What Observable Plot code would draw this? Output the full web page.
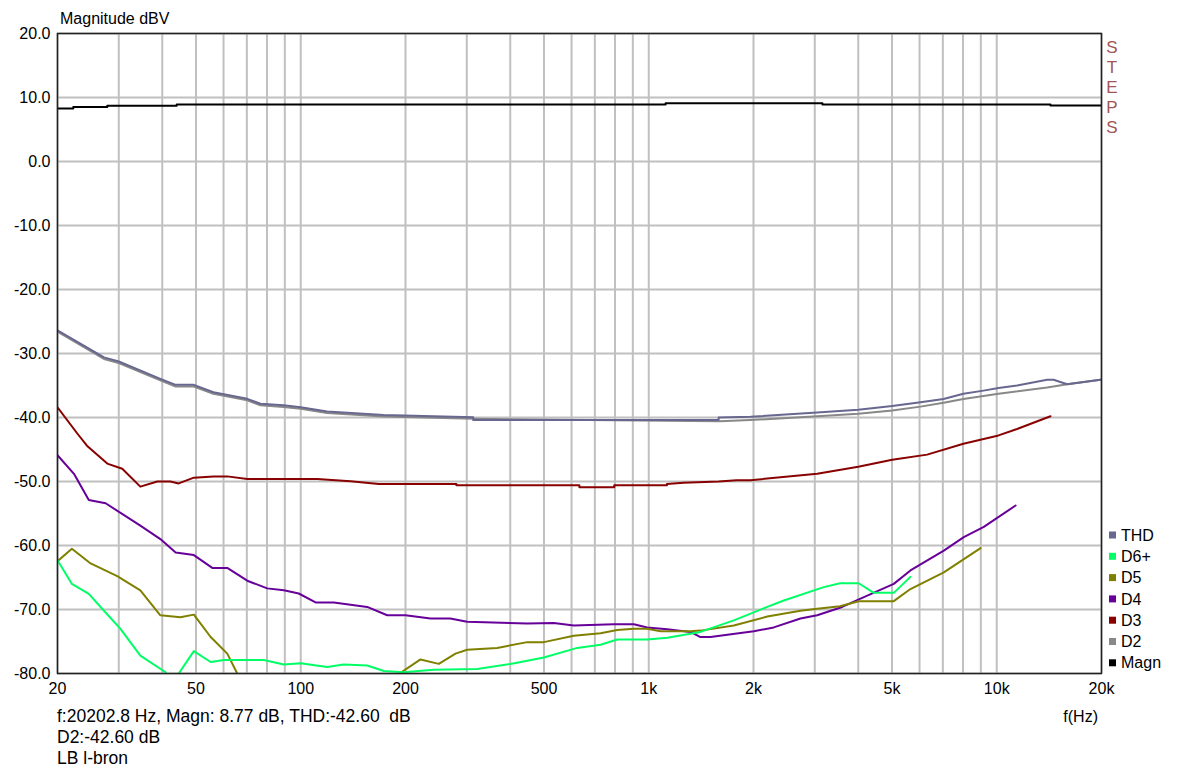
<!DOCTYPE html>
<html>
<head>
<meta charset="utf-8">
<script src="https://cdn.jsdelivr.net/npm/d3@7"></script>
<script src="https://cdn.jsdelivr.net/npm/@observablehq/plot@0.6"></script>
<style>
  html, body { margin: 0; padding: 0; background: #fff; }
  #chart svg { display: block; }
</style>
</head>
<body>
<div id="chart"></div>
<script>
// ---- Data (frequency in Hz, level in dB) ----
const magnF  = [20, 22.2, 22.2, 27.8, 27.8, 44, 44, 1118, 1118, 3156, 3156, 14270, 14270, 20000];
const magnDb = [8.3, 8.3, 8.5, 8.5, 8.7, 8.7, 8.9, 8.9, 9.1, 9.1, 8.9, 8.9, 8.75, 8.75];

const thdF  = [20, 27.2, 30, 39.5, 43.7, 49.3, 56.1, 70.2, 76.6, 89.2, 100, 119, 173, 313, 313, 1588, 1588, 1960, 3048, 4000, 5008, 6040, 7034, 8020, 9160, 10120, 11440, 13960, 14560, 15940, 19860];
const thdDb = [-26.4, -30.6, -31.25, -33.96, -34.9, -34.9, -36.05, -37.08, -37.86, -38.1, -38.4, -39.06, -39.6, -39.95, -40.4, -40.4, -40.0, -39.9, -39.2, -38.8, -38.2, -37.6, -37.1, -36.3, -35.8, -35.4, -35.0, -34.1, -34.1, -34.8, -34.1];

const d2F  = [20, 27.2, 30, 39.5, 43.7, 49.3, 56.1, 70.2, 76.6, 89.2, 100, 119, 173, 313, 1600, 1960, 3048, 4000, 5008, 6040, 7034, 8020, 10120, 13960, 15940, 19860];
const d2Db = [-26.6, -30.85, -31.5, -34.2, -35.15, -35.15, -36.3, -37.3, -38.1, -38.35, -38.65, -39.3, -39.85, -40.2, -40.6, -40.4, -39.8, -39.4, -38.9, -38.3, -37.7, -37.1, -36.3, -35.3, -34.8, -34.1];

const d3F  = [20, 22.8, 24.3, 27.8, 30.7, 34.6, 38.7, 42.2, 44.6, 49.3, 56.2, 61.5, 70.2, 111.5, 139, 167.6, 280, 280, 632, 632, 796, 796, 1128, 1128, 1258, 1588, 1788, 1960, 3048, 4000, 5008, 6310, 8020, 10120, 11440, 14270];
const d3Db = [-38.4, -42.5, -44.4, -47.2, -48.0, -50.8, -50.0, -50.0, -50.3, -49.4, -49.2, -49.2, -49.6, -49.6, -49.95, -50.4, -50.4, -50.6, -50.6, -50.9, -50.9, -50.6, -50.6, -50.4, -50.2, -50.0, -49.8, -49.8, -48.8, -47.7, -46.6, -45.8, -44.1, -42.8, -41.8, -39.8];

const d4F  = [20, 22.3, 24.6, 27.5, 34.6, 39.5, 43.7, 49.3, 55.7, 61.5, 70.2, 80.1, 89.4, 98.7, 110.3, 124.5, 155.2, 177.2, 200, 236, 269, 300.8, 447.6, 533.6, 609, 793.6, 906, 990, 1130, 1318, 1408, 1504, 2004, 2287, 2729, 3048, 3597, 4061, 5059, 5650, 7046, 8040, 9180, 11330];
const d4Db = [-45.9, -48.8, -52.9, -53.4, -56.9, -59.0, -61.1, -61.5, -63.5, -63.5, -65.5, -66.7, -67.0, -67.5, -68.9, -68.9, -69.6, -70.9, -70.9, -71.4, -71.4, -71.9, -72.2, -72.1, -72.5, -72.3, -72.3, -72.8, -73.1, -73.5, -74.3, -74.3, -73.4, -72.8, -71.4, -70.9, -69.6, -68.3, -66.0, -63.9, -60.8, -58.7, -57.1, -53.75];

const d5F  = [20, 22.0, 24.9, 29.7, 34.6, 39.5, 45.1, 49.3, 55.1, 61.5, 65.7, 70, 185, 193.5, 220.9, 249.3, 278.4, 300.8, 366.8, 447.6, 499.6, 609, 727, 811.6, 906, 990, 1081, 1318, 1408, 1756, 2191, 2729, 3048, 3545, 4012, 5059, 5650, 7046, 8983];
const d5Db = [-62.45, -60.5, -62.8, -64.8, -67.0, -70.9, -71.2, -70.8, -74.3, -76.9, -80, -90, -90, -79.9, -77.8, -78.5, -76.9, -76.3, -76.0, -75.1, -75.1, -74.1, -73.7, -73.2, -73.0, -73.0, -73.4, -73.4, -73.3, -72.5, -71.1, -70.2, -69.9, -69.5, -68.7, -68.7, -66.8, -64.2, -60.4];

const d6F  = [20, 22.0, 24.6, 27.2, 30.3, 34.6, 40.9, 43, 44.6, 49.3, 55.1, 60.1, 78.3, 89.4, 100, 119, 132.9, 155.2, 173.3, 197.8, 241.3, 321.4, 400.6, 499.6, 623, 727, 811.6, 990, 1130, 1408, 1756, 2191, 2444, 3184, 3545, 4012, 4433, 5059, 5650];
const d6Db = [-62.3, -66.0, -67.55, -70.2, -73.0, -77.2, -79.8, -83, -80, -76.5, -78.2, -77.9, -77.9, -78.6, -78.4, -79.0, -78.6, -78.75, -79.6, -79.8, -79.4, -79.3, -78.5, -77.5, -76.0, -75.5, -74.7, -74.7, -74.4, -73.5, -71.7, -69.6, -68.6, -66.5, -65.9, -65.9, -67.4, -67.4, -64.9];

// axis / legend labels
const xTickValues = [20, 50, 100, 200, 500, 1000, 2000, 5000, 10000, 20000];
const xTickLabels = ["20", "50", "100", "200", "500", "1k", "2k", "5k", "10k", "20k"];
const yTickValues = [-80, -70, -60, -50, -40, -30, -20, -10, 0, 10, 20];
const legendNames = ["THD", "D6+", "D5", "D4", "D3", "D2", "Magn"];
const legendColors = ["#67678f", "#00ff66", "#808000", "#660099", "#880000", "#888888", "#000000"];
const captionLines = ["f:20202.8 Hz, Magn: 8.77 dB, THD:-42.60  dB", "D2:-42.60 dB", "LB l-bron"];

// ---- Build ----
const rows = (fs, dbs) => fs.map((f, i) => ({f, db: dbs[i]}));
const gridF = [];
for (const dec of [10, 100, 1000]) for (let k = 1; k <= 9; k++) { const v = k * dec; if (v >= 20) gridF.push(v); }
gridF.push(10000, 20000);
const colorOf = Object.fromEntries(legendNames.map((n, i) => [n, legendColors[i]]));
const xTicks = xTickValues.map((v, i) => ({v, label: xTickLabels[i]}));

const W = 1177, H = 773, mL = 57, mR = 76, mT = 33, mB = 100;
const font = "'Liberation Sans', Arial, sans-serif";

const lineMark = (fs, dbs, name, w = 2) =>
  Plot.line(rows(fs, dbs), {x: "f", y: "db", stroke: colorOf[name], strokeWidth: w, clip: true, strokeLinejoin: "round"});

const chart = Plot.plot({
  width: W, height: H,
  marginLeft: mL, marginRight: mR, marginTop: mT, marginBottom: mB,
  style: {fontFamily: font, fontSize: "16px", background: "#fff", color: "#000"},
  x: {type: "log", domain: [20, 20000], axis: null},
  y: {domain: [-80, 20], axis: null},
  marks: [
    Plot.ruleX(gridF, {stroke: "#c0c0c0", strokeWidth: 2}),
    Plot.ruleY(yTickValues, {stroke: "#c0c0c0", strokeWidth: 2}),
    Plot.text(xTicks, {x: "v", text: "label", frameAnchor: "bottom", dy: 20, fontSize: 16, fill: "#000"}),
    Plot.text(yTickValues, {y: (d) => d, text: (d) => d.toFixed(1), frameAnchor: "left", textAnchor: "end", dx: -7, fontSize: 16, fill: "#000"}),
    lineMark(d2F, d2Db, "D2", 2),
    lineMark(thdF, thdDb, "THD", 2),
    lineMark(d3F, d3Db, "D3", 2),
    lineMark(d4F, d4Db, "D4", 2),
    lineMark(d5F, d5Db, "D5", 2),
    lineMark(d6F, d6Db, "D6+", 2),
    lineMark(magnF, magnDb, "Magn", 2),
    Plot.frame({stroke: "#222", strokeWidth: 1.5})
  ]
});

const svg = d3.select(chart);
const addText = (x, y, t, anchor = "start", size = 16, fill = "#000") =>
  svg.append("text").attr("x", x).attr("y", y).attr("dy", "0.35em").attr("text-anchor", anchor)
    .attr("fill", fill).attr("xml:space", "preserve")
    .style("font-family", font).style("font-size", size + "px").style("white-space", "pre").text(t);

addText(mL + 3, 18, "Magnitude dBV");
addText(W - mR - 3, 716, "f(Hz)", "end");
captionLines.forEach((t, i) => addText(mL, 716 + i * 21, t, "start", 17.5));
"STEPS".split("").forEach((c, i) => addText(W - mR + 11, 47 + i * 20, c, "middle", 17, "#a05555"));
legendNames.forEach((n, i) => {
  const y = 535 + i * 21.3;
  svg.append("rect").attr("x", W - mR + 8).attr("y", y - 3.5).attr("width", 7).attr("height", 7).attr("fill", legendColors[i]);
  addText(W - mR + 20, y, n);
});

document.getElementById("chart").appendChild(chart);
</script>
</body>
</html>
